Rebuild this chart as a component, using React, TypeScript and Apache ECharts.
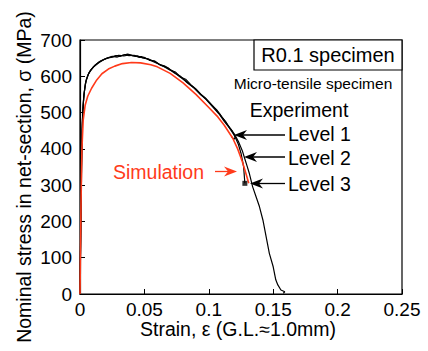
import React, { useEffect, useRef } from "react";
import * as echarts from "echarts";

// ---- data (strain, stress in MPa) ----
const simStrain = [0, 0.0004, 0.0008, 0.0015, 0.0025, 0.004, 0.006, 0.009, 0.013, 0.017, 0.022, 0.027, 0.033, 0.04, 0.047, 0.055, 0.06, 0.07, 0.08, 0.09, 0.1, 0.107, 0.112, 0.1185, 0.1224, 0.126, 0.129, 0.131];
const simStress = [0, 120, 250, 400, 480, 520, 545, 567, 590, 607, 620, 628, 635, 638, 637, 632, 626, 608, 582, 550, 514, 488, 465, 430, 400, 365, 330, 305];

const exp1Strain = [0, 0.0006, 0.0012, 0.0018, 0.0028, 0.0042, 0.006, 0.008, 0.011, 0.015, 0.02, 0.024, 0.028, 0.031, 0.035, 0.038, 0.042, 0.046, 0.05, 0.054, 0.058, 0.062, 0.066, 0.07, 0.074, 0.078, 0.082, 0.086, 0.09, 0.094, 0.098, 0.102, 0.106, 0.11, 0.113, 0.116, 0.118, 0.1195, 0.1205, 0.1195, 0.1178];
const exp1Stress = [0, 180, 360, 470, 540, 580, 602, 616, 628, 640, 649, 652, 657, 655, 660, 657, 658, 652, 652, 644, 642, 632, 628, 618, 612, 598, 592, 577, 565, 550, 538, 522, 508, 488, 476, 458, 450, 440, 432, 426, 433];

const exp2Strain = [0, 0.0005, 0.001, 0.0016, 0.0024, 0.0036, 0.005, 0.007, 0.01, 0.014, 0.018, 0.022, 0.026, 0.03, 0.034, 0.038, 0.043, 0.048, 0.053, 0.058, 0.063, 0.068, 0.073, 0.078, 0.083, 0.088, 0.093, 0.098, 0.103, 0.108, 0.112, 0.116, 0.12, 0.123, 0.125, 0.127, 0.128];
const exp2Stress = [0, 160, 330, 450, 520, 565, 592, 610, 624, 636, 645, 651, 654, 658, 656, 659, 655, 654, 647, 641, 630, 624, 610, 600, 583, 570, 552, 536, 516, 496, 476, 458, 436, 412, 388, 352, 305];

const exp3Strain = [0, 0.0007, 0.0014, 0.002, 0.003, 0.0045, 0.0065, 0.009, 0.012, 0.016, 0.021, 0.025, 0.029, 0.033, 0.037, 0.041, 0.045, 0.049, 0.053, 0.057, 0.061, 0.065, 0.069, 0.073, 0.077, 0.081, 0.085, 0.089, 0.093, 0.097, 0.101, 0.105, 0.109, 0.113, 0.117, 0.12, 0.123, 0.126, 0.128, 0.1295, 0.1315, 0.134, 0.1367, 0.1393, 0.142, 0.1445, 0.147, 0.15, 0.152, 0.1536, 0.156, 0.159, 0.1578];
const exp3Stress = [0, 190, 390, 490, 548, 586, 606, 620, 632, 642, 650, 655, 653, 658, 661, 657, 656, 650, 648, 640, 634, 627, 619, 611, 600, 590, 578, 566, 552, 540, 526, 510, 494, 474, 455, 440, 420, 395, 372, 355, 332, 296, 268, 241, 204, 158, 112, 75, 39, 25, 11, 6, 2];

const level3Point = [0.128, 305];

const xTickLabels = ["0", "0.05", "0.1", "0.15", "0.2", "0.25"];
const yTickLabels = ["0", "100", "200", "300", "400", "500", "600", "700"];

const FONT = "'Liberation Sans', Arial, Helvetica, sans-serif";

function pairs(xs: number[], ys: number[]) {
  return xs.map((x, i) => [x, ys[i]]);
}

function arrowLeft(tx: number, ty: number, endX: number, color: string) {
  return [
    { type: "line", shape: { x1: tx + 8, y1: ty, x2: endX, y2: ty }, style: { stroke: color, lineWidth: 1.3 } },
    { type: "polygon", shape: { points: [[tx, ty], [tx + 13, ty - 5], [tx + 9, ty], [tx + 13, ty + 5]] }, style: { fill: color } },
  ];
}

function arrowRight(startX: number, tx: number, ty: number, color: string) {
  return [
    { type: "line", shape: { x1: startX, y1: ty, x2: tx - 8, y2: ty }, style: { stroke: color, lineWidth: 1.3 } },
    { type: "polygon", shape: { points: [[tx, ty], [tx - 13, ty - 5], [tx - 9, ty], [tx - 13, ty + 5]] }, style: { fill: color } },
  ];
}

export default function App() {
  const ref = useRef<HTMLDivElement>(null);
  useEffect(() => {
    if (!ref.current) return;
    const chart = echarts.init(ref.current, undefined, { renderer: "svg" });
    const red = "#ff3a1a";
    const option = {
      animation: false,
      backgroundColor: "#fff",
      grid: { left: 80, right: 26, top: 40, bottom: 57, show: true, borderColor: "#000", borderWidth: 1.2, backgroundColor: "transparent" },
      xAxis: {
        type: "value", min: 0, max: 0.25, interval: 0.05,
        axisLine: { show: true, lineStyle: { color: "#000", width: 1.2 } },
        axisTick: { show: true, inside: true, length: 5, lineStyle: { color: "#000" } },
        splitLine: { show: false },
        axisLabel: { color: "#000", fontSize: 19, fontFamily: FONT, margin: 6, formatter: (v: number) => xTickLabels[Math.round(v / 0.05)] },
      },
      yAxis: {
        type: "value", min: 0, max: 700, interval: 100,
        axisLine: { show: true, lineStyle: { color: "#000", width: 1.2 } },
        axisTick: { show: true, inside: true, length: 5, lineStyle: { color: "#000" } },
        splitLine: { show: false },
        axisLabel: { color: "#000", fontSize: 19, fontFamily: FONT, margin: 8, formatter: (v: number) => yTickLabels[Math.round(v / 100)] },
      },
      series: [
        { type: "line", data: pairs(exp1Strain, exp1Stress), showSymbol: false, lineStyle: { color: "#000", width: 1.2 }, z: 3 },
        { type: "line", data: pairs(exp2Strain, exp2Stress), showSymbol: false, lineStyle: { color: "#000", width: 1.2 }, z: 3 },
        { type: "line", data: pairs(exp3Strain, exp3Stress), showSymbol: false, lineStyle: { color: "#000", width: 1.2 }, z: 3 },
        { type: "line", data: pairs(simStrain, simStress), showSymbol: false, lineStyle: { color: red, width: 1.6 }, z: 4 },
        { type: "scatter", data: [level3Point], symbol: "rect", symbolSize: 5, itemStyle: { color: "#000" }, z: 5 },
      ],
      graphic: [
        { type: "rect", shape: { x: 254, y: 40, width: 148, height: 30 }, style: { fill: "#fff", stroke: "#000", lineWidth: 1.2 } },
        { type: "text", x: 328, y: 55, style: { text: "R0.1 specimen", font: `20px ${FONT}`, fill: "#000", align: "center", verticalAlign: "middle" } },
        { type: "text", x: 313, y: 83, style: { text: "Micro-tensile specimen", font: `15.5px ${FONT}`, fill: "#000", align: "center", verticalAlign: "middle" } },
        { type: "text", x: 299, y: 110, style: { text: "Experiment", font: `19.5px ${FONT}`, fill: "#000", align: "center", verticalAlign: "middle" } },
        { type: "text", x: 288, y: 134, style: { text: "Level 1", font: `19.5px ${FONT}`, fill: "#000", align: "left", verticalAlign: "middle" } },
        { type: "text", x: 288, y: 158, style: { text: "Level 2", font: `19.5px ${FONT}`, fill: "#000", align: "left", verticalAlign: "middle" } },
        { type: "text", x: 288, y: 184, style: { text: "Level 3", font: `19.5px ${FONT}`, fill: "#000", align: "left", verticalAlign: "middle" } },
        ...arrowLeft(234, 135, 285, "#000"),
        ...arrowLeft(244, 157, 285, "#000"),
        ...arrowLeft(250, 183.5, 285, "#000"),
        { type: "text", x: 113, y: 172, style: { text: "Simulation", font: `19.5px ${FONT}`, fill: red, align: "left", verticalAlign: "middle" } },
        ...arrowRight(215, 237, 171.5, red),
        { type: "text", x: 238, y: 329, style: { text: "Strain, ε (G.L.≈1.0mm)", font: `19.5px ${FONT}`, fill: "#000", align: "center", verticalAlign: "middle" } },
        { type: "text", x: 24, y: 177, rotation: Math.PI / 2, style: { text: "Nominal stress in net-section, σ (MPa)", font: `19.5px ${FONT}`, fill: "#000", align: "center", verticalAlign: "middle" } },
      ],
    };
    chart.setOption(option as any);
    return () => chart.dispose();
  }, []);
  return <div ref={ref} style={{ position: "fixed", left: 0, top: 0, width: 428, height: 351 }} />;
}
